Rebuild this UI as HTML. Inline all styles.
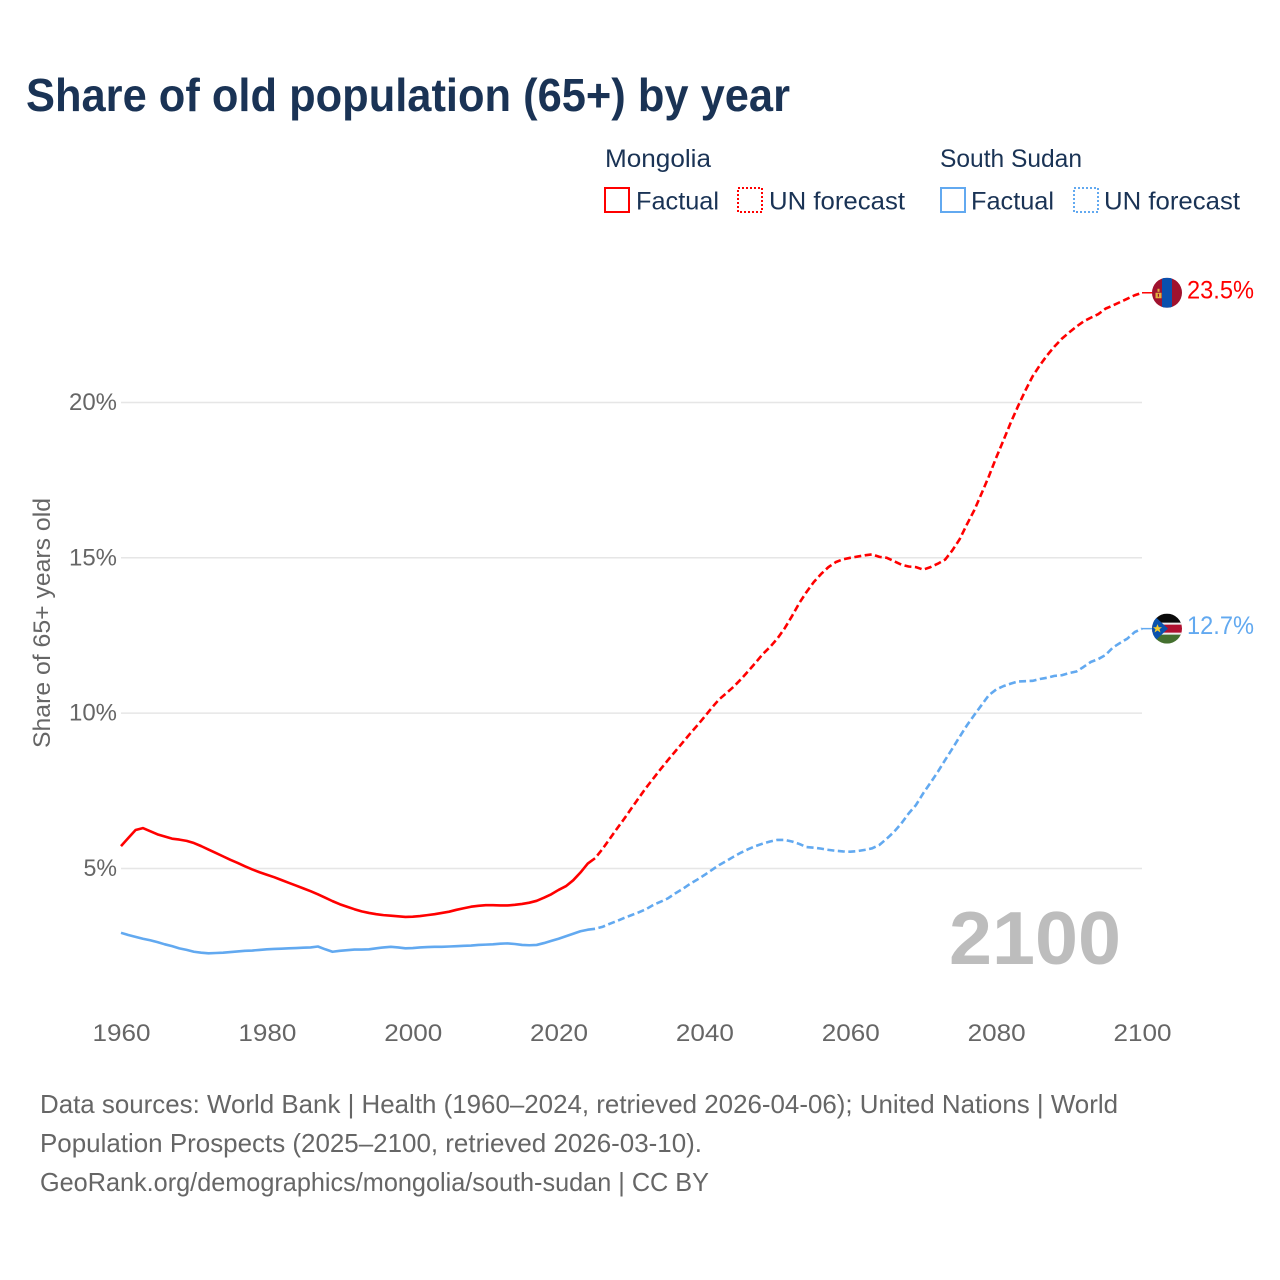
<!DOCTYPE html>
<html lang="en">
<head>
<meta charset="utf-8">
<title>Share of old population (65+) by year</title>
<style>
html,body{margin:0;padding:0;background:#fff;}
svg{display:block;font-family:"Liberation Sans",sans-serif;}
.leg{font-size:25px;fill:#1a3355;}
.foot{font-size:26px;fill:#666;}
.tick{font-size:24px;fill:#666;}
</style>
</head>
<body>
<svg id="chart" xmlns="http://www.w3.org/2000/svg" width="1280" height="1280" viewBox="0 0 1280 1280">
  <rect x="0" y="0" width="1280" height="1280" fill="#fff"/>
  <text x="26" y="111" font-size="46" font-weight="700" fill="#1a3355" textLength="764" lengthAdjust="spacingAndGlyphs">Share of old population (65+) by year</text>

  <g>
    <text class="leg" x="605" y="167" textLength="106" lengthAdjust="spacingAndGlyphs">Mongolia</text>
    <text class="leg" x="940" y="167" textLength="142" lengthAdjust="spacingAndGlyphs">South Sudan</text>
    <rect x="605" y="188" width="24" height="24" fill="none" stroke="#ff0000" stroke-width="2"/>
    <text class="leg" x="636" y="209.5" textLength="83" lengthAdjust="spacingAndGlyphs">Factual</text>
    <rect x="738" y="188" width="24" height="24" fill="none" stroke="#ff0000" stroke-width="2" stroke-dasharray="2 2"/>
    <text class="leg" x="769" y="209.5" textLength="136" lengthAdjust="spacingAndGlyphs">UN forecast</text>
    <rect x="941" y="188" width="24" height="24" fill="none" stroke="#62a9f0" stroke-width="2"/>
    <text class="leg" x="971" y="209.5" textLength="83" lengthAdjust="spacingAndGlyphs">Factual</text>
    <rect x="1074" y="188" width="24" height="24" fill="none" stroke="#62a9f0" stroke-width="2" stroke-dasharray="2 2"/>
    <text class="leg" x="1104" y="209.5" textLength="136" lengthAdjust="spacingAndGlyphs">UN forecast</text>
  </g>

  <text class="tick" transform="translate(50,623) rotate(-90)" text-anchor="middle" textLength="250" lengthAdjust="spacingAndGlyphs">Share of 65+ years old</text>

  <g id="grid"></g>
  <g id="yticks"></g>
  <g id="xticks"></g>

  <text id="year-label" x="1121" y="964" text-anchor="end" font-size="75" font-weight="700" fill="#bdbdbd" textLength="172" lengthAdjust="spacingAndGlyphs"></text>

  <g id="series"></g>

  <defs>
    <clipPath id="clip-mn"><circle cx="0" cy="0" r="15"/></clipPath>
    <clipPath id="clip-ss"><circle cx="0" cy="0" r="15"/></clipPath>
  </defs>

  <g id="flag-mn" clip-path="url(#clip-mn)">
    <rect x="-15" y="-15" width="30" height="30" fill="#a0122e"/>
    <rect x="-5" y="-15" width="10" height="30" fill="#0a50ad"/>
    <rect x="-11.5" y="0" width="6" height="5.5" fill="#e0b040"/>
    <rect x="-9.5" y="-4" width="2" height="3" fill="#e0b040"/>
    <rect x="-9.2" y="1" width="1.2" height="3" fill="#a0122e"/>
  </g>
  <g id="flag-ss" clip-path="url(#clip-ss)">
    <rect x="-15" y="-15" width="30" height="10" fill="#0a0a0a"/>
    <rect x="-15" y="-5" width="30" height="10" fill="#b01030"/>
    <rect x="-15" y="5" width="30" height="10" fill="#44702f"/>
    <rect x="-15" y="-6" width="30" height="2" fill="#eeeeee"/>
    <rect x="-15" y="4" width="30" height="2" fill="#eeeeee"/>
    <polygon points="-15,-15 1,0 -15,15" fill="#0a52ad"/>
    <polygon points="-9.5,-4.5 -8.2,-1.4 -5,-1.4 -7.5,0.6 -6.5,3.8 -9.5,1.9 -12.5,3.8 -11.5,0.6 -14,-1.4 -10.8,-1.4" fill="#f2cb30"/>
  </g>

  <text id="value-mn" x="1187" font-size="25" fill="#ff0000" textLength="67" lengthAdjust="spacingAndGlyphs"></text>
  <text id="value-ss" x="1187" font-size="25" fill="#62a9f0" textLength="67" lengthAdjust="spacingAndGlyphs"></text>

  <g>
    <text class="foot" x="40" y="1113" textLength="1078" lengthAdjust="spacingAndGlyphs">Data sources: World Bank | Health (1960–2024, retrieved 2026-04-06); United Nations | World</text>
    <text class="foot" x="40" y="1152" textLength="662" lengthAdjust="spacingAndGlyphs">Population Prospects (2025–2100, retrieved 2026-03-10).</text>
    <text class="foot" x="40" y="1191" textLength="669" lengthAdjust="spacingAndGlyphs">GeoRank.org/demographics/mongolia/south-sudan | CC BY</text>
  </g>
</svg>
<script>
// First year of each block of values; each array holds one value per year.
const factualStartYear = 1960;
const forecastStartYear = 2025;
const xTickLabels = [1960, 1980, 2000, 2020, 2040, 2060, 2080, 2100];
const yTickLabels = [5, 10, 15, 20];

const mongoliaFactual = [
  5.72, 5.98, 6.24, 6.30, 6.20, 6.10, 6.03, 5.96, 5.93, 5.89,
  5.82, 5.72, 5.61, 5.50, 5.39, 5.28, 5.18, 5.07, 4.97, 4.88,
  4.80, 4.72, 4.63, 4.54, 4.45, 4.36, 4.27, 4.17, 4.06, 3.95,
  3.85, 3.77, 3.69, 3.62, 3.57, 3.53, 3.50, 3.48, 3.46, 3.44,
  3.45, 3.47, 3.50, 3.53, 3.57, 3.61, 3.67, 3.72, 3.77, 3.80,
  3.82, 3.82, 3.81, 3.81, 3.83, 3.86, 3.90, 3.96, 4.06, 4.17,
  4.31, 4.43, 4.62, 4.87, 5.16, 5.33
];
const mongoliaForecast = [
  5.33, 5.62, 5.95, 6.28, 6.60, 6.94, 7.27, 7.60, 7.90, 8.20,
  8.49, 8.77, 9.05, 9.33, 9.60, 9.88, 10.17, 10.44, 10.64, 10.85,
  11.09, 11.35, 11.62, 11.90, 12.13, 12.40, 12.73, 13.12, 13.54, 13.90,
  14.22, 14.48, 14.70, 14.86, 14.95, 15.00, 15.04, 15.08, 15.11, 15.03,
  15.00, 14.89, 14.78, 14.72, 14.70, 14.62, 14.70, 14.81, 14.94, 15.24,
  15.60, 16.08, 16.53, 17.07, 17.62, 18.22, 18.78, 19.35, 19.88, 20.38,
  20.84, 21.20, 21.52, 21.80, 22.05, 22.25, 22.44, 22.61, 22.73, 22.84,
  23.02, 23.12, 23.23, 23.34, 23.45, 23.53
];
const southSudanFactual = [
  2.93, 2.86, 2.80, 2.74, 2.69, 2.63, 2.56, 2.50, 2.43, 2.38,
  2.32, 2.29, 2.27, 2.28, 2.29, 2.31, 2.33, 2.35, 2.36, 2.38,
  2.40, 2.41, 2.42, 2.43, 2.44, 2.45, 2.46, 2.49, 2.40, 2.32,
  2.35, 2.37, 2.39, 2.39, 2.40, 2.43, 2.46, 2.48, 2.46, 2.43,
  2.44, 2.46, 2.47, 2.48, 2.48, 2.49, 2.50, 2.51, 2.52, 2.54,
  2.55, 2.56, 2.58, 2.59, 2.57, 2.54, 2.53, 2.54, 2.60, 2.67,
  2.74, 2.82, 2.90, 2.98, 3.03, 3.06
];
const southSudanForecast = [
  3.06, 3.12, 3.22, 3.31, 3.41, 3.50, 3.59, 3.69, 3.83, 3.93,
  4.04, 4.20, 4.34, 4.50, 4.64, 4.79, 4.95, 5.11, 5.24, 5.38,
  5.51, 5.62, 5.72, 5.80, 5.87, 5.92, 5.92, 5.87, 5.79, 5.69,
  5.67, 5.64, 5.60, 5.57, 5.55, 5.54, 5.56, 5.60, 5.65, 5.76,
  5.96, 6.18, 6.45, 6.77, 7.04, 7.42, 7.76, 8.11, 8.49, 8.86,
  9.24, 9.61, 9.94, 10.26, 10.58, 10.76, 10.87, 10.95, 11.02, 11.03,
  11.04, 11.10, 11.14, 11.20, 11.22, 11.29, 11.34, 11.49, 11.65, 11.74,
  11.87, 12.11, 12.26, 12.40, 12.61, 12.72
];

const NS = 'http://www.w3.org/2000/svg';
const xScale = function (year) { return 121 + (year - 1960) * (1142 - 121) / 140; };
const yScale = function (value) { return 868.5 - (value - 5) * 31.07; };

function make(tag, parentId) {
  const el = document.createElementNS(NS, tag);
  document.getElementById(parentId).appendChild(el);
  return el;
}

function pointsFor(values, startYear) {
  return values.map(function (v, i) {
    return xScale(startYear + i).toFixed(2) + ',' + yScale(v).toFixed(2);
  }).join(' ');
}

yTickLabels.forEach(function (t) {
  const line = make('line', 'grid');
  
  
  line.setAttribute('x1', xScale(1960));
  line.setAttribute('x2', xScale(2100));
  line.setAttribute('y1', yScale(t));
  line.setAttribute('y2', yScale(t));
  line.setAttribute('stroke', '#e6e6e6');
  line.setAttribute('stroke-width', '1.5');

  const label = make('text', 'yticks');
  
  
  label.setAttribute('class', 'tick');
  label.setAttribute('x', 117);
  label.setAttribute('y', yScale(t) + 7.5);
  label.setAttribute('text-anchor', 'end');
  label.setAttribute('textLength', String(t).length * 14.5 + 19);
  label.setAttribute('lengthAdjust', 'spacingAndGlyphs');
  label.textContent = t + '%';
});

xTickLabels.forEach(function (t) {
  const label = make('text', 'xticks');
  
  
  label.setAttribute('class', 'tick');
  label.setAttribute('x', xScale(t) + 0.5);
  label.setAttribute('y', 1041);
  label.setAttribute('text-anchor', 'middle');
  label.setAttribute('textLength', 58);
  label.setAttribute('lengthAdjust', 'spacingAndGlyphs');
  label.textContent = t;
});

function drawSolid(values, color, name) {
  const line = make('polyline', 'series');
  
  
  line.setAttribute('points', pointsFor(values, factualStartYear));
  line.setAttribute('fill', 'none');
  line.setAttribute('stroke', color);
  line.setAttribute('stroke-width', '2.6');
  line.setAttribute('stroke-linejoin', 'round');
}

function drawDashed(values, color, name) {
  const line = make('polyline', 'series');
  
  
  line.setAttribute('points', pointsFor(values, forecastStartYear));
  line.setAttribute('fill', 'none');
  line.setAttribute('stroke', color);
  line.setAttribute('stroke-width', '2.6');
  line.setAttribute('stroke-dasharray', '7 3.5');
  line.setAttribute('stroke-dashoffset', '7');
  line.setAttribute('stroke-linejoin', 'round');

  const last = values[values.length - 1];
  const stub = make('line', 'series');
  
  
  stub.setAttribute('x1', xScale(2100));
  stub.setAttribute('x2', xScale(2100) + 12);
  stub.setAttribute('y1', yScale(last));
  stub.setAttribute('y2', yScale(last));
  stub.setAttribute('stroke', color);
  stub.setAttribute('stroke-width', '1.5');
}

drawSolid(southSudanFactual, '#62a9f0', 'line-south-sudan-factual');
drawDashed(southSudanForecast, '#62a9f0', 'line-south-sudan-forecast');
drawSolid(mongoliaFactual, '#ff0000', 'line-mongolia-factual');
drawDashed(mongoliaForecast, '#ff0000', 'line-mongolia-forecast');

function placeEnd(values, flagId, valueId) {
  const last = values[values.length - 1];
  const y = yScale(last);
  document.getElementById(flagId).setAttribute('transform', 'translate(1167,' + y.toFixed(2) + ')');
  const v = document.getElementById(valueId);
  v.setAttribute('y', (y + 5.5).toFixed(2));
  v.textContent = last.toFixed(1) + '%';
}
placeEnd(mongoliaForecast, 'flag-mn', 'value-mn');
placeEnd(southSudanForecast, 'flag-ss', 'value-ss');

document.getElementById('year-label').textContent = forecastStartYear + mongoliaForecast.length - 1;
</script>
</body>
</html>
